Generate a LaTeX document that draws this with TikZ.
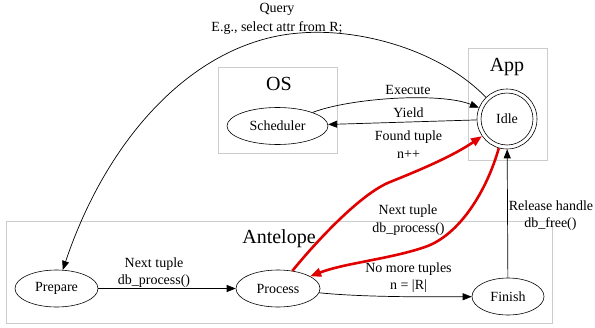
\documentclass[tikz,border=0pt]{standalone}
\usepackage{fontspec}
\setmainfont{Liberation Serif}
\usetikzlibrary{arrows.meta,shapes.geometric}
\definecolor{redthree}{HTML}{E00000}
\definecolor{clustergray}{HTML}{CCCCCC}
\begin{document}
\begin{tikzpicture}[x=1pt,y=-1pt,
  every node/.style={font=\fontsize{14}{17}\selectfont},
  state/.style={draw, ellipse, line width=0.6pt, inner sep=0pt, minimum width=#1, minimum height=37pt},
  lbl/.style={anchor=base, inner sep=0pt},
  ctitle/.style={anchor=base, inner sep=0pt, font=\fontsize{20}{24}\selectfont},
  cluster/.style={draw=clustergray, line width=0.7pt},
  edge/.style={draw, line width=0.7pt, -{Triangle[length=9pt,width=7pt]}},
  rededge/.style={draw=redthree, line width=2.6pt, -{Triangle[length=11pt,width=8.5pt]}}
]
\useasboundingbox (0,0) rectangle (595,327);
% clusters
\draw[cluster] (218,67) rectangle (337,153);
\draw[cluster] (468,48) rectangle (547,160);
\draw[cluster] (6,221) rectangle (552,323);
\node[ctitle] (tOS) at (279,90) {OS};
\node[ctitle] (tApp) at (507,71) {App};
\node[ctitle] (tAnt) at (279,243) {Antelope};
% nodes
\node[state=101pt] (Sched) at (277.5,126) {Scheduler};
\node[draw, circle, line width=0.6pt, minimum size=60pt, inner sep=0pt] (Idle) at (507,119) {Idle};
\draw[line width=0.6pt] (Idle.center) circle (26pt);
\node[state=83pt] (Prep) at (56.5,288.5) {Prepare};
\node[state=84pt] (Proc) at (278,288.5) {Process};
\node[state=72pt] (Fin) at (508,296.5) {Finish};
% edges
\coordinate (qtop) at (300,33);
\coordinate (ra) at (390,182);
\coordinate (rb) at (425,247);
\draw[edge] (Idle) .. controls (440,50) and (360,28) .. (qtop) .. controls (200,40) and (110,130) .. (Prep);
\draw[edge] (Sched) .. controls (350,98) and (440,92) .. (Idle);
\draw[edge] (Idle) -- (Sched);
\draw[edge] (Prep) -- (Proc);
\draw[edge] (Proc) .. controls (360,297) and (420,297) .. (Fin);
\draw[edge] (Fin) -- (Idle);
\draw[rededge] (Proc) .. controls (315,243) and (360,194) .. (ra) .. controls (420,170) and (453,156) .. (Idle);
\draw[rededge] (Idle) .. controls (487,190) and (460,235) .. (rb) .. controls (390,259) and (345,263) .. (Proc);
% labels
\node[lbl] (l1) at (277,12) {Query};
\node[lbl] (l2) at (277,31) {E.g., select attr from R;};
\node[lbl] (l3) at (408,94) {Execute};
\node[lbl] (l4) at (408.5,117) {Yield};
\node[lbl] (l5) at (408.5,140) {Found tuple};
\node[lbl] (l6) at (408.5,158) {n++};
\node[lbl] (l7) at (408,214) {Next tuple};
\node[lbl] (l8) at (408.5,232) {db\_process()};
\node[lbl] (l9) at (408.5,272) {No more tuples};
\node[lbl] (l10) at (408.5,289) {n = |R|};
\node[lbl] (l11) at (551,210) {Release handle};
\node[lbl] (l12) at (550.5,227) {db\_free()};
\node[lbl] (l13) at (154,267) {Next tuple};
\node[lbl] (l14) at (154,284) {db\_process()};
\end{tikzpicture}
\end{document}
